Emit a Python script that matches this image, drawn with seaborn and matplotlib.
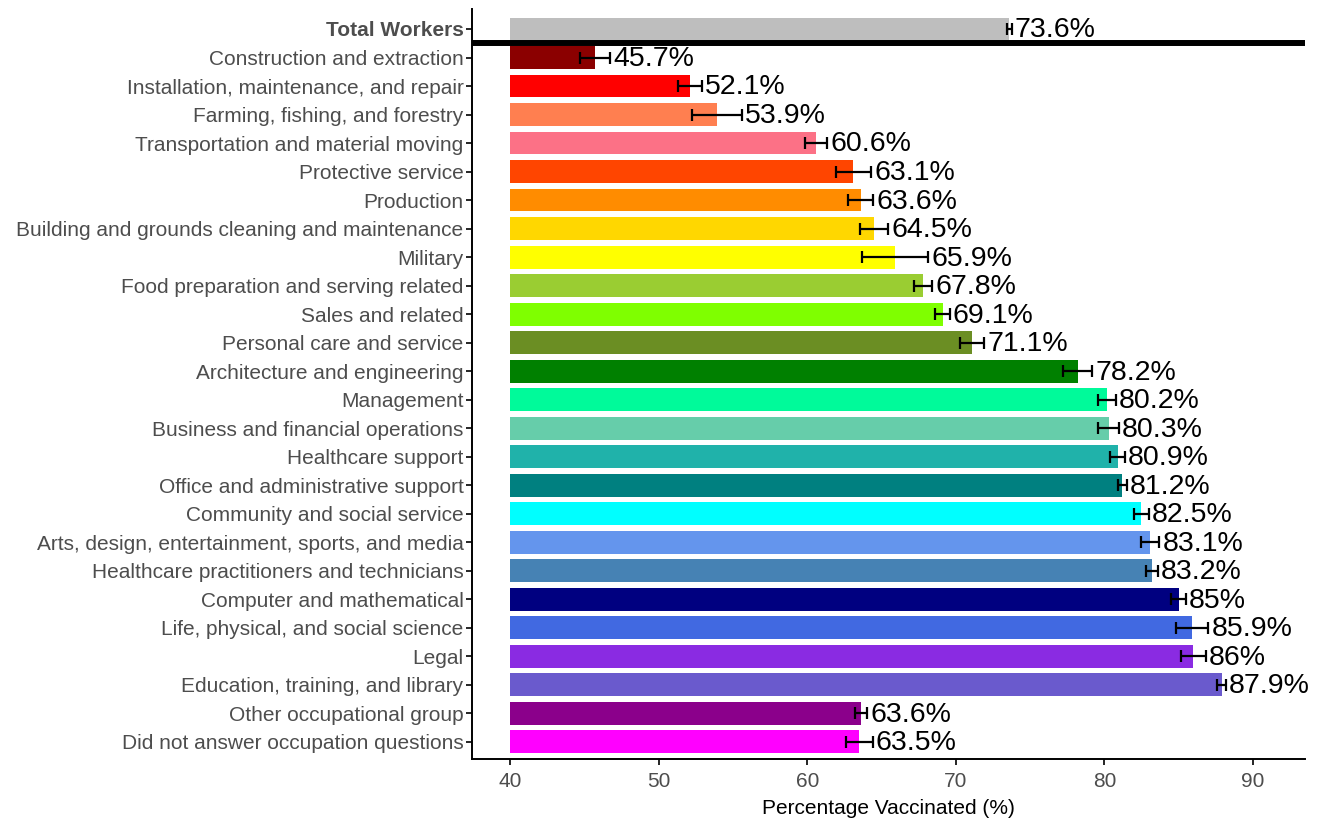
import pandas as pd
import seaborn as sns
import matplotlib.pyplot as plt

occupations = [
    'Total Workers',
    'Construction and extraction',
    'Installation, maintenance, and repair',
    'Farming, fishing, and forestry',
    'Transportation and material moving',
    'Protective service',
    'Production',
    'Building and grounds cleaning and maintenance',
    'Military',
    'Food preparation and serving related',
    'Sales and related',
    'Personal care and service',
    'Architecture and engineering',
    'Management',
    'Business and financial operations',
    'Healthcare support',
    'Office and administrative support',
    'Community and social service',
    'Arts, design, entertainment, sports, and media',
    'Healthcare practitioners and technicians',
    'Computer and mathematical',
    'Life, physical, and social science',
    'Legal',
    'Education, training, and library',
    'Other occupational group',
    'Did not answer occupation questions',
]
vaccinated = [73.6, 45.7, 52.1, 53.9, 60.6, 63.1, 63.6, 64.5, 65.9, 67.8, 69.1, 71.1,
              78.2, 80.2, 80.3, 80.9, 81.2, 82.5, 83.1, 83.2, 85.0, 85.9, 86.0, 87.9,
              63.6, 63.5]
ci_half = [0.15, 1.0, 0.8, 1.7, 0.75, 1.2, 0.85, 0.95, 2.25, 0.6, 0.5, 0.8,
           1.0, 0.6, 0.7, 0.5, 0.3, 0.5, 0.6, 0.4, 0.5, 1.1, 0.85, 0.3,
           0.42, 0.9]
colors = ['#BEBEBE', '#8B0000', '#FF0000', '#FF7F50', '#FC7186', '#FF4500', '#FF8C00',
          '#FFD700', '#FFFF00', '#9ACD32', '#7FFF00', '#6B8E23', '#008000', '#00FA9A',
          '#66CDAA', '#20B2AA', '#008080', '#00FFFF', '#6495ED', '#4682B4', '#000080',
          '#4169E1', '#8A2BE2', '#6A5ACD', '#8B008B', '#FF00FF']
labels = ['73.6%', '45.7%', '52.1%', '53.9%', '60.6%', '63.1%', '63.6%', '64.5%', '65.9%',
          '67.8%', '69.1%', '71.1%', '78.2%', '80.2%', '80.3%', '80.9%', '81.2%', '82.5%',
          '83.1%', '83.2%', '85%', '85.9%', '86%', '87.9%', '63.6%', '63.5%']

base = 40

df = pd.DataFrame({'occupation': occupations, 'pct': vaccinated, 'err': ci_half})

sns.set_style('white')
plt.rcParams['font.family'] = ['Liberation Sans', 'DejaVu Sans']

fig = plt.figure(figsize=(13.18, 8.21), dpi=100)
ax = fig.add_axes([0.358, 0.0755, 0.632, 0.9135])

sns.barplot(data=df, y='occupation', x='pct', hue='occupation',
            palette=dict(zip(occupations, colors)), order=occupations,
            legend=False, width=0.8, errorbar=None, saturation=1, ax=ax)

# bars start at 40, not at 0
for p in ax.patches:
    w = p.get_width()
    p.set_x(base)
    p.set_width(w - base)
    p.set_edgecolor('none')

ypos = range(len(occupations))
ax.errorbar(df['pct'], ypos, xerr=df['err'], fmt='none', ecolor='black',
            elinewidth=1.6, capsize=4, capthick=1.6, zorder=3)

for y, v, e, lab in zip(ypos, vaccinated, ci_half, labels):
    ax.text(v + e + 0.2, y + 0.05, lab, va='center', ha='left', fontsize=20.5, color='black')

# separator below the total
ax.axhline(0.5, color='black', lw=4.3, zorder=4)

ax.set_xlim(37.4, 93.5)
ax.set_ylim(len(occupations) - 0.4, -0.7)
ax.set_xticks([40, 50, 60, 70, 80, 90])
ax.set_xlabel('Percentage Vaccinated (%)', fontsize=15, color='black', labelpad=6)
ax.set_ylabel('')

sns.despine(ax=ax)
for s in ['left', 'bottom']:
    ax.spines[s].set_linewidth(1.4)
    ax.spines[s].set_color('black')
ax.tick_params(axis='both', length=4, width=1.2, color='black', colors='#4D4D4D',
               labelsize=15, direction='out', left=True, bottom=True)
ax.tick_params(axis='y', pad=2)
ax.tick_params(axis='x', pad=5)
ax.get_yticklabels()[0].set_fontweight('bold')

plt.savefig('out.png', dpi=100)
